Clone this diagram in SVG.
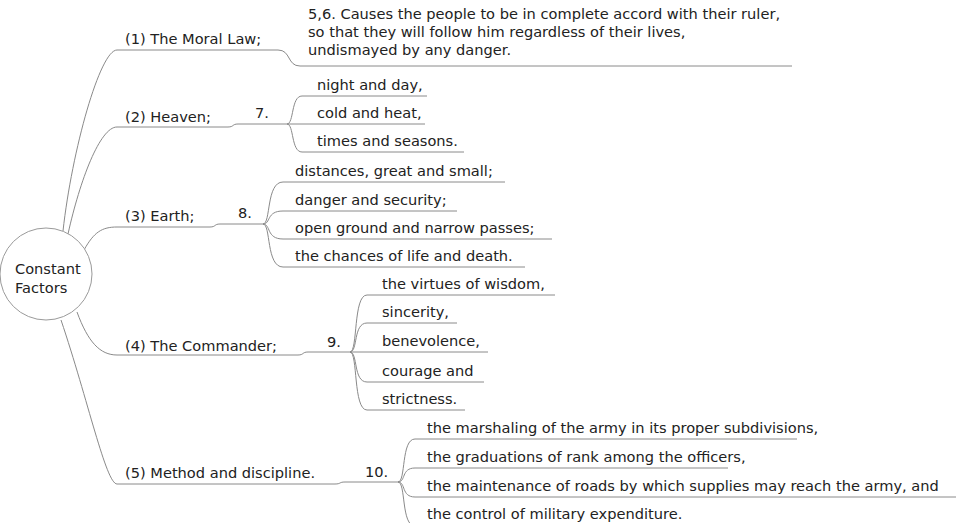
<svg xmlns="http://www.w3.org/2000/svg" width="956" height="523" viewBox="0 0 956 523">
<style>
text{font-family:"DejaVu Sans","Noto Sans",sans-serif;font-size:14.6px;fill:#222}
.u,.c{stroke:#8a8a8a;stroke-width:1;fill:none}
.root{fill:#fff;stroke:#9a9a9a;stroke-width:1}
</style>
<rect width="956" height="523" fill="#fff"/>
<g id="connectors">
<path class="c" d="M63,231 C72,150 100,50 117,50"/>
<path class="c" d="M68,234 C80,180 100,127 117,127"/>
<path class="c" d="M84,250 C94,232 102,227 117,227"/>
<path class="c" d="M77,312 C88,342 100,355 117,355"/>
<path class="c" d="M61,320 C88,400 106,484 117,484"/>
<path class="c" d="M278,50 C291,50 287,66 300,66"/>
<path class="c" d="M228,127 C234,127 232,124 238,124"/>
<path class="c" d="M210,227 C216,227 214,224 220,224"/>
<path class="c" d="M298,355 C304,355 302,352 308,352"/>
<path class="c" d="M335,484 C341,484 339,482 345,482"/>
<path class="c" d="M287,124 C294,124 291,96 302,96"/>
<path class="c" d="M287,124 L302,124"/>
<path class="c" d="M287,124 C294,124 291,152 302,152"/>
<path class="c" d="M263,224 C271,224 266,182 283,182"/>
<path class="c" d="M263,224 C271,224 266,211 283,211"/>
<path class="c" d="M263,224 C271,224 266,239 283,239"/>
<path class="c" d="M263,224 C271,224 266,267 283,267"/>
<path class="c" d="M350,352 C358,352 353,295 367,295"/>
<path class="c" d="M350,352 C358,352 353,323 367,323"/>
<path class="c" d="M350,352 L367,352"/>
<path class="c" d="M350,352 C358,352 353,382 367,382"/>
<path class="c" d="M350,352 C358,352 353,410 367,410"/>
<path class="c" d="M398,482 C406,482 401,439 415,439"/>
<path class="c" d="M398,482 C406,482 401,468 415,468"/>
<path class="c" d="M398,482 C406,482 401,497 415,497"/>
<path class="c" d="M398,482 C406,482 401,526 415,526"/>
</g>
<g id="root"><circle class="root" cx="46" cy="274" r="46"/><text x="15" y="274">Constant</text><text x="15" y="293">Factors</text></g>
<g id="n1"><text x="125" y="44">(1) The Moral Law;</text><line class="u" x1="117" y1="50" x2="278" y2="50"/></g>
<g id="n1a"><text x="308" y="19">5,6. Causes the people to be in complete accord with their ruler,</text><text x="308" y="37">so that they will follow him regardless of their lives,</text><text x="308" y="55">undismayed by any danger.</text><line class="u" x1="300" y1="66" x2="792" y2="66"/></g>
<g id="n2"><text x="125" y="121.5">(2) Heaven;</text><line class="u" x1="117" y1="127" x2="228" y2="127"/></g>
<g id="n2a"><text x="255" y="118">7.</text><line class="u" x1="238" y1="124" x2="287" y2="124"/></g>
<g id="n2a1"><text x="317" y="89.5">night and day,</text><line class="u" x1="302" y1="96" x2="427" y2="96"/></g>
<g id="n2a2"><text x="317" y="117.5">cold and heat,</text><line class="u" x1="302" y1="124" x2="425" y2="124"/></g>
<g id="n2a3"><text x="317" y="145.5">times and seasons.</text><line class="u" x1="302" y1="152" x2="464" y2="152"/></g>
<g id="n3"><text x="125" y="221">(3) Earth;</text><line class="u" x1="117" y1="227" x2="210" y2="227"/></g>
<g id="n3a"><text x="238" y="218">8.</text><line class="u" x1="220" y1="224" x2="263" y2="224"/></g>
<g id="n3a1"><text x="295" y="175.5">distances, great and small;</text><line class="u" x1="283" y1="182" x2="505" y2="182"/></g>
<g id="n3a2"><text x="295" y="204.5">danger and security;</text><line class="u" x1="283" y1="211" x2="457" y2="211"/></g>
<g id="n3a3"><text x="295" y="232.5">open ground and narrow passes;</text><line class="u" x1="283" y1="239" x2="552" y2="239"/></g>
<g id="n3a4"><text x="295" y="260.5">the chances of life and death.</text><line class="u" x1="283" y1="267" x2="525" y2="267"/></g>
<g id="n4"><text x="125" y="350.5">(4) The Commander;</text><line class="u" x1="117" y1="355" x2="298" y2="355"/></g>
<g id="n4a"><text x="327" y="347">9.</text><line class="u" x1="308" y1="352" x2="350" y2="352"/></g>
<g id="n4a1"><text x="382" y="288.5">the virtues of wisdom,</text><line class="u" x1="367" y1="295" x2="555" y2="295"/></g>
<g id="n4a2"><text x="382" y="316.5">sincerity,</text><line class="u" x1="367" y1="323" x2="457" y2="323"/></g>
<g id="n4a3"><text x="382" y="345.5">benevolence,</text><line class="u" x1="367" y1="352" x2="488" y2="352"/></g>
<g id="n4a4"><text x="382" y="375.5">courage and</text><line class="u" x1="367" y1="382" x2="484" y2="382"/></g>
<g id="n4a5"><text x="382" y="403.5">strictness.</text><line class="u" x1="367" y1="410" x2="465" y2="410"/></g>
<g id="n5"><text x="125" y="478">(5) Method and discipline.</text><line class="u" x1="117" y1="484" x2="335" y2="484"/></g>
<g id="n5a"><text x="365" y="477">10.</text><line class="u" x1="345" y1="482" x2="398" y2="482"/></g>
<g id="n5a1"><text x="427" y="432.5">the marshaling of the army in its proper subdivisions,</text><line class="u" x1="415" y1="439" x2="797" y2="439"/></g>
<g id="n5a2"><text x="427" y="461.5">the graduations of rank among the officers,</text><line class="u" x1="415" y1="468" x2="728" y2="468"/></g>
<g id="n5a3"><text x="427" y="490.5">the maintenance of roads by which supplies may reach the army, and</text><line class="u" x1="415" y1="497" x2="956" y2="497"/></g>
<g id="n5a4"><text x="427" y="519">the control of military expenditure.</text><line class="u" x1="415" y1="526" x2="700" y2="526"/></g>
</svg>
